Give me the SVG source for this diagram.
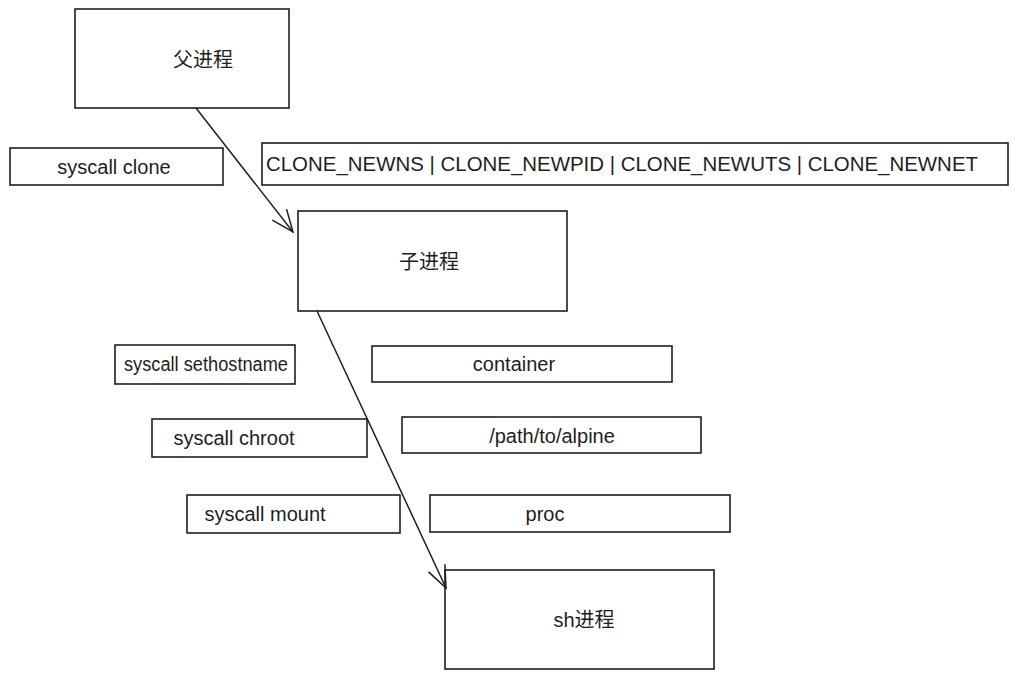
<svg xmlns="http://www.w3.org/2000/svg" width="1017" height="679" viewBox="0 0 1017 679">
<style>
.box{fill:#ffffff;stroke:#1e1e1e;stroke-width:1.6;}
.t{font-family:"Liberation Sans","Noto Sans CJK SC",sans-serif;font-size:20px;fill:#1e1e1e;text-anchor:middle;dominant-baseline:central;}
.tl{font-family:"Liberation Sans","Noto Sans CJK SC",sans-serif;font-size:20px;fill:#1e1e1e;}
.edge{fill:none;stroke:#1e1e1e;stroke-width:1.5;}
</style>
<defs>
<marker id="arr" markerWidth="28" markerHeight="28" refX="24" refY="14" orient="auto" markerUnits="userSpaceOnUse">
<polyline points="2,5 24,14 2,23" fill="none" stroke="#1e1e1e" stroke-width="1.5"/>
</marker>
</defs>
<rect width="1017" height="679" fill="#ffffff"/>
<g id="parent">
<rect class="box" x="75" y="9" width="214" height="99"/>
<text class="t" x="203" y="60">父进程</text>
</g>
<g id="syscall-clone">
<rect class="box" x="10" y="148" width="213" height="37"/>
<text class="t" x="114" y="167">syscall clone</text>
</g>
<g id="clone-flags">
<rect class="box" x="262" y="143" width="746" height="42"/>
<text class="tl" x="266" y="171" textLength="712" lengthAdjust="spacingAndGlyphs">CLONE_NEWNS | CLONE_NEWPID | CLONE_NEWUTS | CLONE_NEWNET</text>
</g>
<g id="child">
<rect class="box" x="298" y="211" width="269" height="100"/>
<text class="t" x="429" y="262">子进程</text>
</g>
<g id="syscall-sethostname">
<rect class="box" x="115" y="345" width="180" height="39"/>
<text class="t" x="206" y="364" textLength="164" lengthAdjust="spacingAndGlyphs">syscall sethostname</text>
</g>
<g id="container">
<rect class="box" x="372" y="346" width="300" height="36"/>
<text class="t" x="514" y="364">container</text>
</g>
<g id="syscall-chroot">
<rect class="box" x="152" y="419" width="215" height="38"/>
<text class="t" x="234" y="438">syscall chroot</text>
</g>
<g id="path">
<rect class="box" x="402" y="417" width="299" height="36"/>
<text class="t" x="552" y="436">/path/to/alpine</text>
</g>
<g id="syscall-mount">
<rect class="box" x="187" y="495" width="213" height="38"/>
<text class="t" x="265" y="514">syscall mount</text>
</g>
<g id="proc">
<rect class="box" x="430" y="495" width="300" height="37"/>
<text class="t" x="545" y="514">proc</text>
</g>
<g id="sh">
<rect class="box" x="445" y="570" width="269" height="99"/>
<text class="t" x="584" y="620">sh进程</text>
</g>
<g id="connectors">
<line class="edge" x1="196" y1="108" x2="293" y2="232" marker-end="url(#arr)"/>
<line class="edge" x1="317" y1="311" x2="446" y2="588" marker-end="url(#arr)"/>
</g>
</svg>
